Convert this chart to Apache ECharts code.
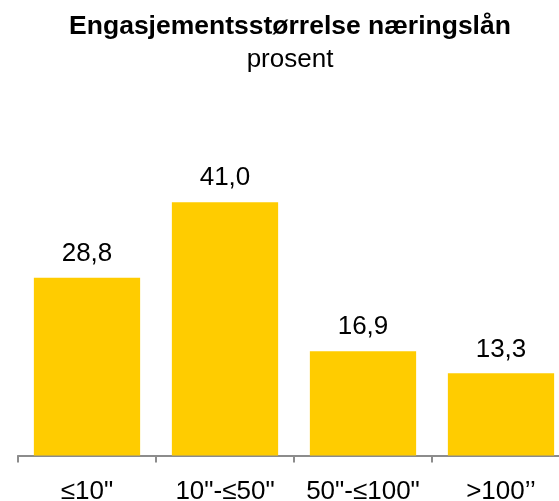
<!DOCTYPE html>
<html>
<head>
<meta charset="utf-8">
<script src="https://cdn.jsdelivr.net/npm/echarts@6/dist/echarts.min.js"></script>
<style>
    html, body { margin: 0; padding: 0; background: #fff; }
    #chart { width: 559px; height: 501px; }
</style>
</head>
<body>
<div id="chart"></div>
<script>
// kategorier og verdier (prosent)
const categories = ['≤10"', '10"-≤50"', '50"-≤100"', '>100’’'];
const values = [28.8, 41.0, 16.9, 13.3];
// skillestreker mellom kategoriene (siste kant ligger utenfor bildet)
const tickPositions = [0, 1, 2, 3];

const chart = echarts.init(document.getElementById('chart'));

const axisGrey = '#8c8c8c';

const option = {
    animation: false,
    title: {
        text: 'Engasjementsstørrelse næringslån',
        subtext: 'prosent',
        left: 285,
        textAlign: 'center',
        top: 8,
        itemGap: 7,
        textStyle: {
            fontFamily: 'Liberation Sans, Arial, sans-serif',
            fontWeight: 'bold',
            fontSize: 26.5,
            color: '#000'
        },
        subtextStyle: {
            fontFamily: 'Liberation Sans, Arial, sans-serif',
            fontSize: 26,
            color: '#000'
        }
    },
    grid: {
        left: 18,
        width: 552,
        top: 85,
        bottom: 45.5,
        containLabel: false,
        outerBoundsMode: 'none'
    },
    xAxis: [
        {
            type: 'category',
            position: 'bottom',
            data: categories,
            axisLine: {
                lineStyle: { color: axisGrey, width: 2 }
            },
            axisTick: { show: false },
            axisLabel: {
                interval: 0,
                hideOverlap: false,
                margin: 23,
                fontFamily: 'Liberation Sans, Arial, sans-serif',
                fontSize: 26,
                color: '#000'
            }
        },
        {
            type: 'value',
            position: 'bottom',
            min: 0,
            max: categories.length,
            interval: 1,
            axisLine: { show: false },
            axisLabel: { show: false },
            splitLine: { show: false },
            axisTick: {
                show: true,
                customValues: tickPositions,
                length: 7,
                lineStyle: { color: axisGrey, width: 2 }
            }
        }
    ],
    yAxis: {
        type: 'value',
        min: 0,
        max: 60,
        show: false,
        splitLine: { show: false }
    },
    series: [
        {
            type: 'bar',
            xAxisIndex: 0,
            data: values,
            barCategoryGap: '23%',
            itemStyle: { color: '#FFCC00' },
            label: {
                show: true,
                position: 'top',
                distance: 11,
                fontFamily: 'Liberation Sans, Arial, sans-serif',
                fontSize: 26,
                color: '#000',
                formatter: (p) => p.value.toFixed(1).replace('.', ',')
            }
        }
    ]
};

chart.setOption(option);
</script>
</body>
</html>
